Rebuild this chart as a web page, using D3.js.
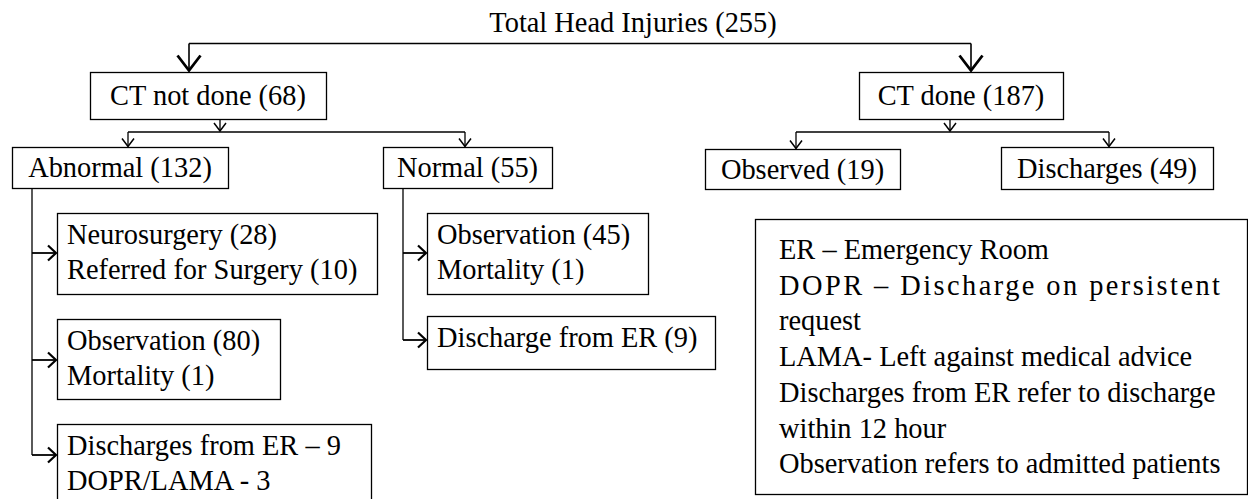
<!DOCTYPE html>
<html>
<head>
<meta charset="utf-8">
<script src="https://cdn.jsdelivr.net/npm/d3@7"></script>
<style>
  html, body { margin: 0; padding: 0; background: #fff; }
  svg { display: block; }
  svg text { font-family: "Liberation Serif", "Times New Roman", Times, "DejaVu Serif", serif; }
</style>
</head>
<body>
<div id="chart"></div>
<script>
// flowchart data
const title = "Total Head Injuries (255)";
const ctGroups = ["CT not done", "CT done"];
const ctCounts = [68, 187];
const ctNotDoneKids = ["Abnormal", "Normal"];
const ctNotDoneCounts = [132, 55];
const ctDoneKids = ["Observed", "Discharges"];
const ctDoneCounts = [19, 49];
const abnormalOutcomes = [
    ["Neurosurgery (28)", "Referred for Surgery (10)"],
    ["Observation (80)", "Mortality (1)"],
    ["Discharges from ER \u2013 9", "DOPR/LAMA - 3"]
];
const normalOutcomes = [
    ["Observation (45)", "Mortality (1)"],
    ["Discharge from ER (9)"]
];
const legendLines = [
    "ER \u2013 Emergency Room",
    "DOPR \u2013 Discharge on persistent",
    "request",
    "LAMA- Left against medical advice",
    "Discharges from ER refer to discharge",
    "within 12 hour",
    "Observation refers to admitted patients"
];

// layout (box geometry in pixels)
const layout = {
    topLineY: 43.5,
    level1: [{x: 90, y: 72, w: 236, h: 47}, {x: 859, y: 72, w: 204, h: 47}],
    level1Drop: [189, 971],
    level2Y: 132,
    notDoneMid: 220, notDoneKids: [{x: 12, y: 147, w: 216, h: 41, ax: 128}, {x: 383, y: 147, w: 169, h: 41, ax: 465}],
    doneMid: 950, doneKids: [{x: 705, y: 149, w: 195, h: 40, ax: 796}, {x: 1001, y: 147, w: 212, h: 42, ax: 1109}],
    abnormalX: 32,
    abnormalBoxes: [{x: 57, y: 213, w: 320, h: 81, ay: 253}, {x: 57, y: 319, w: 223, h: 80, ay: 360}, {x: 57, y: 424, w: 314, h: 90, ay: 455}],
    normalX: 403,
    normalBoxes: [{x: 427, y: 213, w: 221, h: 81, ay: 253}, {x: 427, y: 316, w: 288, h: 53, ay: 340}],
    legend: {x: 755, y: 219, w: 492, h: 275, tx: 779, ty: 259, dy: 35.7}
};

class FlowChartD3 {
    constructor(width, height) {
        this.width = width;
        this.height = height;
        this.fontSize = 28.4;
    }

    plot(element_id) {
        this.svg = d3.select(element_id).append("svg")
            .attr("width", this.width).attr("height", this.height);
        this.g = this.svg.append("g");
        this._addTitle();
        this._addLevel1();
        this._addLevel2();
        this._addOutcomes(abnormalOutcomes, layout.abnormalBoxes, layout.abnormalX, layout.notDoneKids[0]);
        this._addOutcomes(normalOutcomes, layout.normalBoxes, layout.normalX, layout.notDoneKids[1]);
        this._addLegend();
    }

    _line(x1, y1, x2, y2, sw) {
        this.g.append("line")
            .attr("x1", x1).attr("y1", y1).attr("x2", x2).attr("y2", y2)
            .attr("stroke", "#000").attr("stroke-width", sw || 1.3);
    }

    // open V arrowhead: half = half width, depth = length back from tip
    _head(x, y, dir, half, depth, sw) {
        let d = dir == "down"
            ? `M${x - half},${y - depth}L${x},${y}L${x + half},${y - depth}`
            : `M${x - depth},${y - half}L${x},${y}L${x - depth},${y + half}`;
        this.g.append("path").attr("d", d)
            .attr("fill", "none").attr("stroke", "#000").attr("stroke-width", sw);
    }

    _box(b, lines, align) {
        this.g.append("rect")
            .attr("x", b.x + 0.5).attr("y", b.y + 0.5).attr("width", b.w).attr("height", b.h)
            .attr("fill", "#fff").attr("stroke", "#000").attr("stroke-width", 1.3);
        let t = this.g.append("text")
            .attr("font-size", this.fontSize).attr("fill", "#000");
        if (align == "center") {
            t.attr("x", b.x + b.w / 2).attr("y", b.y + b.h / 2 + 9.5)
                .attr("text-anchor", "middle").text(lines[0]);
        } else {
            t.selectAll("tspan").data(lines).enter().append("tspan")
                .attr("x", b.x + 10)
                .attr("y", (d, i) => b.y + 31 + i * 35)
                .text(d => d);
        }
    }

    _addTitle() {
        this.g.append("text")
            .attr("x", 633).attr("y", 32)
            .attr("text-anchor", "middle")
            .attr("font-size", this.fontSize)
            .text(title);
        let [xl, xr] = layout.level1Drop;
        this._line(xl, layout.topLineY, xr, layout.topLineY, 1.5);
        layout.level1Drop.forEach(x => {
            this._line(x, layout.topLineY, x, layout.level1[0].y - 1.5, 1.6);
            this._head(x, layout.level1[0].y - 1.5, "down", 11.5, 15, 2.8);
        });
    }

    _addLevel1() {
        ctGroups.forEach((name, i) => {
            this._box(layout.level1[i], [name + " (" + ctCounts[i] + ")"], "center");
        });
    }

    _addLevel2() {
        let groups = [
            {names: ctNotDoneKids, counts: ctNotDoneCounts, boxes: layout.notDoneKids, mid: layout.notDoneMid, parent: layout.level1[0]},
            {names: ctDoneKids, counts: ctDoneCounts, boxes: layout.doneKids, mid: layout.doneMid, parent: layout.level1[1]}
        ];
        let y = layout.level2Y;
        groups.forEach(gr => {
            let bottom = gr.parent.y + gr.parent.h + 0.5;
            this._line(gr.mid, bottom, gr.mid, y - 1);
            this._head(gr.mid, y - 1, "down", 6, 8, 1.5);
            this._line(gr.boxes[0].ax, y, gr.boxes[1].ax, y);
            gr.boxes.forEach((b, i) => {
                this._line(b.ax, y, b.ax, b.y - 0.5);
                this._head(b.ax, b.y - 0.5, "down", 6, 8, 1.5);
                this._box(b, [gr.names[i] + " (" + gr.counts[i] + ")"], "center");
            });
        });
    }

    _addOutcomes(outcomes, boxes, xLine, parent) {
        let last = boxes[boxes.length - 1].ay;
        this._line(xLine, parent.y + parent.h + 0.5, xLine, last);
        outcomes.forEach((lines, i) => {
            let b = boxes[i];
            this._line(xLine, b.ay, b.x - 1, b.ay, 1.8);
            this._head(b.x - 1, b.ay, "right", 7.5, 8, 2.2);
            this._box(b, lines, "left");
        });
    }

    _addLegend() {
        let L = layout.legend;
        this.g.append("rect")
            .attr("x", L.x + 0.5).attr("y", L.y + 0.5).attr("width", L.w).attr("height", L.h)
            .attr("fill", "#fff").attr("stroke", "#000").attr("stroke-width", 1.3);
        this.g.append("g").selectAll("text")
            .data(legendLines).enter().append("text")
            .attr("x", L.tx)
            .attr("y", (d, i) => L.ty + i * L.dy)
            .attr("font-size", this.fontSize)
            .each(function (d, i) {
                // second line is justified to the right margin
                if (i == 1) d3.select(this).attr("textLength", 441).attr("lengthAdjust", "spacing");
            })
            .text(d => d);
    }
}

let chart = new FlowChartD3(1248, 499);
chart.plot("#chart");
</script>
</body>
</html>
